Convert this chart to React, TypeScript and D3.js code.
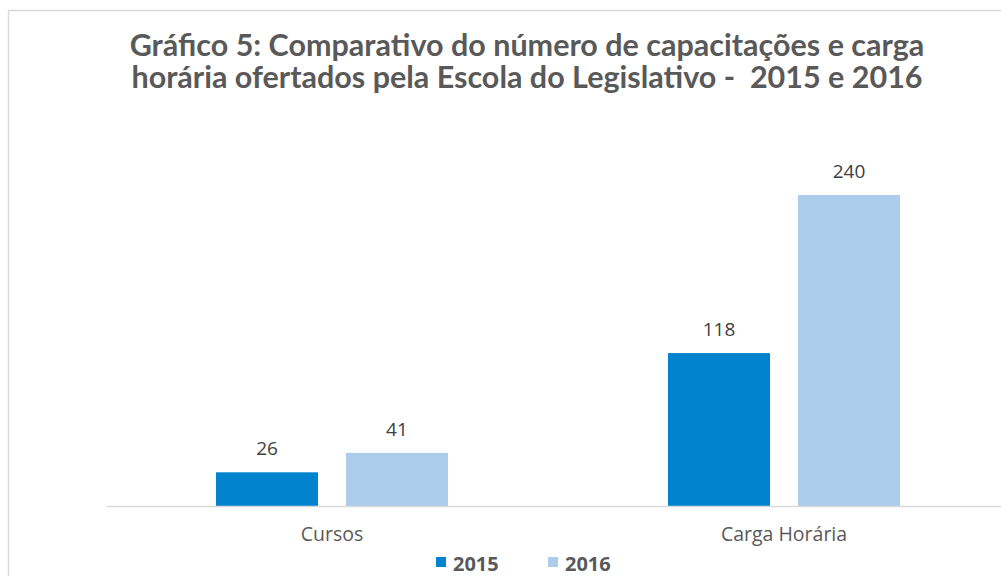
import * as React from "react";
import * as d3 from "d3";

const categories = ["Cursos", "Carga Horária"];
const seriesNames = ["2015", "2016"];
const values2015 = [26, 118];
const values2016 = [41, 240];
const titleLines = [
  "Gráfico 5: Comparativo do número de capacitações e carga",
  "horária ofertados pela Escola do Legislativo -  2015 e 2016",
];

const colors = ["#0283CE", "#ABCDEB"];
const labelFont = "'Open Sans', Lato, sans-serif";

export default function App() {
  const ref = React.useRef<HTMLDivElement | null>(null);
  React.useEffect(() => {
    const width = 1001;
    const height = 576;
    const svg = d3
      .select(ref.current)
      .append("svg")
      .attr("width", width)
      .attr("height", height)
      .style("display", "block")
      .style("font-family", "Lato, 'Open Sans', sans-serif");

    svg.append("rect").attr("width", width).attr("height", height).attr("fill", "#fff");

    // chart area border (runs off the right/bottom edge)
    svg
      .append("rect")
      .attr("x", 8.5)
      .attr("y", 10.5)
      .attr("width", width + 20)
      .attr("height", height + 20)
      .attr("fill", "none")
      .attr("stroke", "#d9d9d9")
      .attr("stroke-width", 1.5);

    // two-line title, one text with tspans
    const title = svg
      .append("text")
      .attr("fill", "#595959")
      .attr("font-weight", "bold")
      .attr("font-size", 30.5)
      .attr("text-anchor", "middle")
      .attr("xml:space", "preserve")
      .style("white-space", "pre");
    titleLines.forEach((line, i) => {
      title
        .append("tspan")
        .attr("x", 527)
        .attr("y", 56 + i * 32)
        .text(line);
    });

    const plotLeft = 106;
    const plotRight = 1010;
    const baseline = 506;

    const x0 = d3.scaleBand<string>().domain(categories).range([plotLeft, plotRight]).paddingInner(0).paddingOuter(0);
    const x1 = d3
      .scaleBand<string>()
      .domain(seriesNames)
      .range([110, x0.bandwidth() - 110])
      .paddingInner(0.215);
    const y = d3.scaleLinear().domain([0, 240]).range([baseline, 195]);

    const data = categories.map((c, i) => ({
      cat: c,
      vals: [values2015[i], values2016[i]],
    }));

    const groups = svg
      .append("g")
      .selectAll("g")
      .data(data)
      .enter()
      .append("g")
      .attr("transform", (d) => `translate(${x0(d.cat)},0)`);

    groups
      .selectAll("rect")
      .data((d) => d.vals.map((v, i) => ({ v, s: seriesNames[i], i })))
      .enter()
      .append("rect")
      .attr("x", (d) => x1(d.s)!)
      .attr("y", (d) => y(d.v))
      .attr("width", x1.bandwidth())
      .attr("height", (d) => baseline - y(d.v))
      .attr("fill", (d) => colors[d.i]);

    groups
      .selectAll("text")
      .data((d) => d.vals.map((v, i) => ({ v, s: seriesNames[i] })))
      .enter()
      .append("text")
      .attr("x", (d) => x1(d.s)! + x1.bandwidth() / 2)
      .attr("y", (d) => y(d.v) - 17)
      .attr("text-anchor", "middle")
      .attr("font-size", 19)
      .attr("font-family", labelFont)
      .attr("fill", "#404040")
      .text((d) => String(d.v));

    // x axis
    const xAxis = d3.axisBottom(x0).tickSize(0).tickPadding(21);
    const xAxisG = svg.append("g").attr("transform", `translate(0,${baseline})`).call(xAxis);
    xAxisG.select("path").attr("stroke", "#d9d9d9").attr("stroke-width", 1.5);
    xAxisG
      .selectAll("text")
      .attr("fill", "#595959")
      .attr("font-size", 19.5)
      .attr("font-family", labelFont);

    // legend
    const legend = svg
      .append("g")
      .selectAll("g")
      .data(seriesNames)
      .enter()
      .append("g")
      .attr("transform", (d, i) => `translate(${436 + i * 112},557)`);
    legend
      .append("rect")
      .attr("width", 10)
      .attr("height", 10)
      .attr("fill", (d, i) => colors[i]);
    legend
      .append("text")
      .attr("x", 17)
      .attr("y", 14)
      .attr("font-size", 20)
      .attr("font-weight", "bold")
      .attr("font-family", labelFont)
      .attr("fill", "#595959")
      .text((d) => d);

    return function cleanup() {
      d3.select(ref.current).selectAll("svg").remove();
    };
  }, []);

  return <div ref={ref} style={{ position: "absolute", left: 0, top: 0 }}></div>;
}
